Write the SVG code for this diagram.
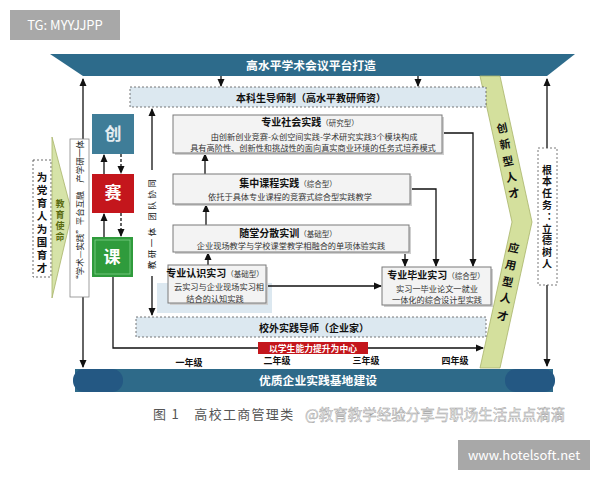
<svg xmlns="http://www.w3.org/2000/svg" width="600" height="480" viewBox="0 0 600 480">
<defs>
<marker id="ah" markerWidth="8" markerHeight="8" refX="7" refY="4" orient="auto-start-reverse" markerUnits="userSpaceOnUse"><path d="M0,0.5 L8,4 L0,7.5 z" fill="#111"/></marker>
<style>
text{font-family:"Noto Sans CJK SC","Liberation Sans",sans-serif}
.band{fill:#dce8f0;stroke:#555;stroke-dasharray:2 2;stroke-width:0.8}
.box{fill:#f3f3f3;stroke:#7a7a7a;stroke-width:1}
.sh{fill:#cfcfcf}
.ln{stroke:#111;stroke-width:1.3;fill:none}
.dash{stroke:#111;stroke-width:1.3;fill:none;stroke-dasharray:3 2}
.t{font-size:10px;font-weight:bold;fill:#111;text-anchor:middle}
.s{font-size:7.5px;font-weight:normal;fill:#333}
.d{font-size:8.2px;fill:#333;text-anchor:middle}
.wh{font-weight:bold;fill:#fff;text-anchor:middle}
.v{font-weight:bold;fill:#111;text-anchor:middle}
.vt{writing-mode:vertical-rl;text-orientation:upright;text-anchor:middle;font-weight:bold}
.yr{font-size:9px;font-weight:bold;fill:#111;text-anchor:middle}
.wm{fill:#a8a8a8}
</style>
</defs>
<rect width="600" height="480" fill="#fff"/>

<g id="watermark-tg"><rect class="wm" x="10" y="10" width="110" height="30"/><text x="65" y="30" font-size="13" fill="#fff" text-anchor="middle">TG: MYYJJPP</text></g>

<g id="top-banner"><polygon points="50,54 575,54 547,76 83,76" fill="#2d6b8b"/><text x="311" y="69.5" class="wh" font-size="11.8">高水平学术会议平台打造</text></g>

<g id="bottom-banner">
<rect x="75" y="369" width="478" height="23" fill="#2e6a89"/>
<rect x="73" y="369" width="50" height="23" rx="11" fill="#245883"/>
<rect x="505" y="369" width="50" height="23" rx="11" fill="#245883"/>
<text x="318" y="385" class="wh" font-size="11.8">优质企业实践基地建设</text>
</g>

<g id="talent-band">
<polygon points="480,76 500,76 532,222 500,368 480,368 512,222" fill="#d4e09d" stroke="#a8b46a" stroke-width="0.8"/>
<g class="v" font-size="11">
<text transform="translate(503,132) rotate(-12)">创</text>
<text transform="translate(506,148) rotate(-12)">新</text>
<text transform="translate(509,165) rotate(-12)">型</text>
<text transform="translate(512,181) rotate(-12)">人</text>
<text transform="translate(515,197) rotate(-12)">才</text>
<text transform="translate(513,252) rotate(12)">应</text>
<text transform="translate(510,269) rotate(12)">用</text>
<text transform="translate(507,286) rotate(12)">型</text>
<text transform="translate(505,302) rotate(12)">人</text>
<text transform="translate(502,320) rotate(12)">才</text>
</g>
</g>

<g id="band-tutor"><rect class="band" x="130" y="87" width="356" height="20"/><text x="311" y="102" class="t" font-size="12">本科生导师制（高水平教研师资）</text></g>

<rect x="157" y="283" width="115" height="30" fill="#dce8f0"/>
<g id="band-enterprise"><rect class="band" x="136" y="317" width="350" height="20"/><text x="314" y="331.5" class="t" font-size="11.5">校外实践导师（企业家）</text></g>

<g id="connectors">
<path class="ln" d="M83,367 V79" marker-start="url(#ah)" marker-end="url(#ah)"/>
<path class="ln" d="M547,148 V79" marker-end="url(#ah)"/>
<path class="ln" d="M547,285 V366" marker-end="url(#ah)"/>
<path class="ln" d="M221,76 V86" marker-end="url(#ah)"/>
<path class="ln" d="M418,76 V86" marker-end="url(#ah)"/>
<path class="ln" d="M152,315 V109" marker-start="url(#ah)" marker-end="url(#ah)"/>
<path class="ln" d="M104,174 V155" marker-end="url(#ah)"/>
<path class="dash" d="M121,154 V173" marker-end="url(#ah)"/>
<path class="ln" d="M104,237 V214" marker-end="url(#ah)"/>
<path class="dash" d="M121,213 V236" marker-end="url(#ah)"/>
<path class="ln" d="M113,277 V348 H483" marker-end="url(#ah)"/>
<path class="ln" d="M442,133 H473 V266" marker-end="url(#ah)"/>
<path class="ln" d="M410,189 H436 V266" marker-end="url(#ah)"/>
<path class="ln" d="M405,252 V266" marker-end="url(#ah)"/>
<path class="ln" d="M266,286 H381" marker-end="url(#ah)"/>
<path class="ln" d="M208,265 V253" marker-end="url(#ah)"/>
<path class="ln" d="M206,225 V205" marker-end="url(#ah)"/>
<path class="ln" d="M205,174 V154" marker-end="url(#ah)"/>
</g>

<g id="team-label"><rect x="146" y="170" width="12" height="106" fill="#fff"/><text transform="rotate(-90 152 223)" x="152" y="226" font-size="8.5" letter-spacing="2.5" fill="#111" text-anchor="middle">教研一体  团队协同</text></g>

<g id="mission-left"><rect x="33" y="160" width="18" height="117" fill="#fff" stroke="#444" stroke-width="0.8" stroke-dasharray="2 2"/>
<text class="vt" x="42" y="224" font-size="10.5" letter-spacing="2.5" fill="#111">为党育人为国育才</text></g>

<g id="mission-arrow"><polygon points="52,137 72,213 52,298" fill="#d6e3a8" stroke="#a8b46a" stroke-width="0.8"/>
<text class="vt" x="60" y="221" font-size="9" letter-spacing="2" fill="#5a6b10">教育使命</text></g>

<g id="platform-box"><rect x="70" y="139" width="19" height="158" fill="#fff" stroke="#888" stroke-width="0.8"/><text transform="rotate(-90 80 212)" x="80" y="215" font-size="8.5" fill="#222" text-anchor="middle">“学术—实践”平台互融　产学研一体</text></g>

<g id="task-box"><rect x="538" y="148" width="19" height="137" fill="#fff" stroke="#555" stroke-width="0.8" stroke-dasharray="2 2"/>
<text class="vt" x="547" y="218" font-size="10" letter-spacing="1.8" fill="#111">根本任务：立德树人</text></g>

<g id="node-chuang"><rect x="92" y="114" width="42" height="40" fill="#3f7d98"/><text x="113" y="140" class="wh" font-size="17" style="fill:#e4ecf0">创</text></g>
<g id="node-sai"><rect x="92" y="174" width="42" height="39" fill="#c4161c"/><text x="113" y="199" class="wh" font-size="17">赛</text></g>
<g id="node-ke"><rect x="92" y="237" width="41" height="40" fill="#2f9b3c"/><rect x="95" y="240" width="35" height="34" fill="none" stroke="#7fd08a" stroke-width="0.8"/><text x="112" y="263" class="wh" font-size="17">课</text></g>

<g id="node-social">
<rect class="sh" x="175" y="117" width="269" height="38"/><rect class="box" x="173" y="115" width="269" height="38"/>
<text x="310" y="125.5" class="t">专业社会实践<tspan class="s">（研究型）</tspan></text>
<text x="314" y="139.5" class="d">由创新创业竞赛-众创空间实践-学术研究实践3个模块构成</text>
<text x="313" y="150.5" class="d">具有高阶性、创新性和挑战性的面向真实商业环境的任务式培养模式</text>
</g>
<g id="node-course">
<rect class="sh" x="175" y="176" width="237" height="30"/><rect class="box" x="173" y="174" width="237" height="30"/>
<text x="288" y="187" class="t">集中课程实践<tspan class="s">（综合型）</tspan></text>
<text x="290" y="200" class="d">依托于具体专业课程的竞赛式综合型实践教学</text>
</g>
<g id="node-class">
<rect class="sh" x="175" y="227" width="236" height="27"/><rect class="box" x="173" y="225" width="236" height="27"/>
<text x="288" y="237" class="t">随堂分散实训<tspan class="s">（基础型）</tspan></text>
<text x="291" y="249" class="d">企业现场教学与学校课堂教学相融合的单项体验实践</text>
</g>
<g id="node-cognition">
<rect class="sh" x="170" y="267" width="98" height="38"/><rect class="box" x="168" y="265" width="98" height="38"/>
<text x="215" y="277" class="t">专业认识实习<tspan class="s">（基础型）</tspan></text>
<text x="219" y="290" class="d">云实习与企业现场实习相</text>
<text x="215" y="302" class="d">结合的认知实践</text>
</g>
<g id="node-graduation">
<rect class="sh" x="384" y="269" width="109" height="38"/><rect class="box" x="382" y="267" width="109" height="38"/>
<text x="436" y="279" class="t">专业毕业实习<tspan class="s">（综合型）</tspan></text>
<text x="437" y="292" class="d">实习一毕业论文一就业</text>
<text x="437" y="303" class="d">一体化的综合设计型实践</text>
</g>

<g id="center-label"><rect x="258" y="342" width="110" height="12" fill="#c4161c"/><text x="313" y="351.5" class="wh" font-size="8.8">以学生能力提升为中心</text></g>

<g id="years">
<text x="189" y="366" class="yr">一年级</text>
<text x="277" y="364" class="yr">二年级</text>
<text x="366" y="364" class="yr">三年级</text>
<text x="455" y="364" class="yr">四年级</text>
</g>

<g id="caption">
<text x="153" y="419" font-size="13" fill="#555" letter-spacing="1.3" font-family="'Liberation Serif','Noto Sans CJK SC',serif">图 1　高校工商管理类</text>
<text x="305" y="420" font-size="14.5" fill="#f2f2f2" stroke="#a0a0a0" stroke-width="0.45">@教育教学经验分享与职场生活点点滴滴</text>
</g>

<g id="watermark-site"><rect class="wm" x="458" y="440" width="132" height="30"/><text x="524" y="460" font-size="13" fill="#fff" text-anchor="middle">www.hotelsoft.net</text></g>
</svg>
